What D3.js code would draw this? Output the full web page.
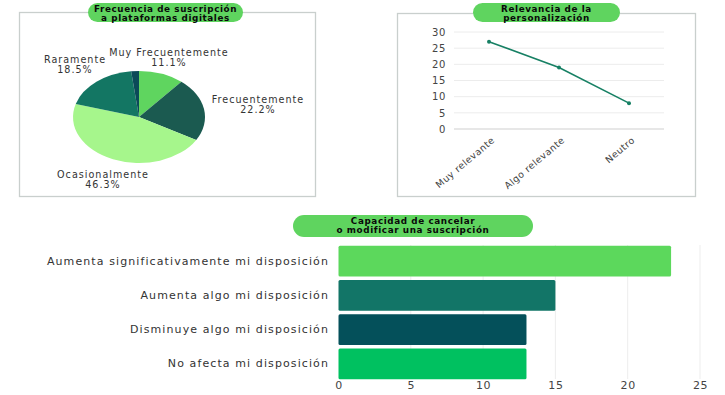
<!DOCTYPE html>
<html>
<head>
<meta charset="utf-8">
<script src="https://cdn.jsdelivr.net/npm/d3@7"></script>
<style>
  body { margin: 0; background: #fff; }
  svg text { font-family: "DejaVu Sans", sans-serif; }
</style>
</head>
<body>
<div id="chart"></div>
<script>
// pie: frecuencia de suscripcion
const pieLabels = ['Muy Frecuentemente', 'Frecuentemente', 'Ocasionalmente', 'Raramente', ''];
const pieValues = [11.1, 22.2, 46.3, 18.5, 1.9];
const pieColors = ['#5fd55f', '#1b5a50', '#a6f68c', '#137663', '#0b4a58'];

// line: relevancia de la personalizacion
const lineCats = ['Muy relevante', 'Algo relevante', 'Neutro'];
const lineValues = [27, 19, 8];
const lineTicks = [0, 5, 10, 15, 20, 25, 30];

// bars: capacidad de cancelar
const barCats = ['Aumenta significativamente mi disposición', 'Aumenta algo mi disposición',
  'Disminuye algo mi disposición', 'No afecta mi disposición'];
const barValues = [23, 15, 13, 13];
const barColors = ['#5cd85c', '#127567', '#04505a', '#00c160'];
const barTicks = [0, 5, 10, 15, 20, 25];

const W = 725, H = 395;
const svg = d3.select('#chart').append('svg')
  .attr('width', W).attr('height', H);

function pill(x, y, w, h, lines) {
  const g = svg.append('g');
  g.append('rect')
    .attr('x', x).attr('y', y).attr('width', w).attr('height', h)
    .attr('rx', h / 2).attr('fill', '#5fd45f');
  lines.forEach((t, i) => {
    g.append('text')
      .attr('x', x + w / 2).attr('y', y + 8.5 + i * 9.5)
      .attr('text-anchor', 'middle')
      .attr('font-size', 8.8).attr('font-weight', 'bold')
      .attr('letter-spacing', 0.6)
      .attr('fill', '#0a0a0a')
      .text(t);
  });
}

// ---- pie panel ----
svg.append('rect').attr('x', 19.5).attr('y', 12.5).attr('width', 296).attr('height', 184)
  .attr('fill', 'none').attr('stroke', '#c9cfcd').attr('stroke-width', 1.3);
pill(88, 3, 155, 19, ['Frecuencia de suscripción', 'a plataformas digitales']);

const rx = 66, ry = 46;
const pieG = svg.append('g')
  .attr('transform', 'translate(139,117) scale(1,' + (ry / rx) + ')');
const arcs = d3.pie().sort(null)(pieValues);
pieG.selectAll('path').data(arcs).enter().append('path')
  .attr('d', d3.arc().innerRadius(0).outerRadius(rx))
  .attr('fill', (d, i) => pieColors[i]);

const pieLabelPos = [[169, 53], [258, 100], [103, 175], [75, 60]];
pieLabelPos.forEach((p, i) => {
  const t = svg.append('text').attr('text-anchor', 'middle')
    .attr('font-size', 9.6).attr('fill', '#333').attr('letter-spacing', 1);
  t.append('tspan').attr('x', p[0]).attr('y', p[1] + 3).text(pieLabels[i]);
  t.append('tspan').attr('x', p[0]).attr('y', p[1] + 13).text(pieValues[i].toFixed(1) + '%');
});

// ---- line panel ----
svg.append('rect').attr('x', 397.5).attr('y', 13.5).attr('width', 298).attr('height', 183)
  .attr('fill', 'none').attr('stroke', '#c9cfcd').attr('stroke-width', 1.3);
pill(473, 3, 147, 19, ['Relevancia de la', 'personalización']);

const lx = d3.scalePoint().domain(lineCats).range([454, 664]).padding(0.5);
const ly = d3.scaleLinear().domain([0, 30]).range([129, 32]);

svg.append('g').selectAll('line').data(lineTicks).enter().append('line')
  .attr('x1', 454).attr('x2', 664)
  .attr('y1', d => ly(d)).attr('y2', d => ly(d))
  .attr('stroke', d => d === 0 ? '#cfcfcf' : '#ececec').attr('stroke-width', 1);

const yAx = svg.append('g').attr('transform', 'translate(446,0)')
  .call(d3.axisLeft(ly).tickValues(lineTicks).tickSize(0).tickPadding(0));
yAx.select('.domain').remove();
yAx.selectAll('text').attr('font-size', 10).attr('fill', '#444')
  .attr('letter-spacing', 0.6)
  .attr('font-family', '"DejaVu Sans", sans-serif');

const xAx = svg.append('g').attr('transform', 'translate(0,129)')
  .call(d3.axisBottom(lx).tickSize(0));
xAx.select('.domain').remove();
xAx.selectAll('text')
  .attr('font-size', 9.4).attr('fill', '#444')
  .attr('letter-spacing', 0.5)
  .attr('font-family', '"DejaVu Sans", sans-serif')
  .attr('text-anchor', 'end')
  .attr('dx', 0).attr('dy', 0)
  .attr('transform', 'translate(4,10) rotate(-40)');

svg.append('path').datum(lineValues)
  .attr('d', d3.line().x((d, i) => lx(lineCats[i])).y(d => ly(d)))
  .attr('fill', 'none').attr('stroke', '#178064').attr('stroke-width', 1.6);
svg.append('g').selectAll('circle').data(lineValues).enter().append('circle')
  .attr('cx', (d, i) => lx(lineCats[i])).attr('cy', d => ly(d)).attr('r', 2)
  .attr('fill', '#178064');

// ---- bar panel ----
pill(293, 215, 240, 22, ['Capacidad de cancelar', 'o modificar una suscripción']);

const bx = d3.scaleLinear().domain([0, 25]).range([338.5, 700]);
const by = d3.scaleBand().domain(barCats).range([245, 380]).paddingInner(0.1).paddingOuter(0.02);

svg.append('g').selectAll('line').data(barTicks.slice(1)).enter().append('line')
  .attr('x1', d => bx(d)).attr('x2', d => bx(d))
  .attr('y1', 245).attr('y2', 379)
  .attr('stroke', '#ededed');

svg.append('g').selectAll('rect').data(barValues).enter().append('rect')
  .attr('x', bx(0)).attr('y', (d, i) => by(barCats[i]))
  .attr('width', d => bx(d) - bx(0)).attr('height', by.bandwidth())
  .attr('rx', 1.5)
  .attr('fill', (d, i) => barColors[i]);

const bxAx = svg.append('g').attr('transform', 'translate(0,379)')
  .call(d3.axisBottom(bx).tickValues(barTicks).tickSize(0).tickPadding(2));
bxAx.select('.domain').remove();
bxAx.selectAll('text').attr('font-size', 11).attr('fill', '#444')
  .attr('letter-spacing', 0.6)
  .attr('font-family', '"DejaVu Sans", sans-serif');

const byAx = svg.append('g').attr('transform', 'translate(329,0)')
  .call(d3.axisLeft(by).tickSize(0).tickPadding(0));
byAx.select('.domain').remove();
byAx.selectAll('text').attr('font-size', 11).attr('fill', '#333')
  .attr('letter-spacing', 1.1)
  .attr('font-family', '"DejaVu Sans", sans-serif');
</script>
</body>
</html>
